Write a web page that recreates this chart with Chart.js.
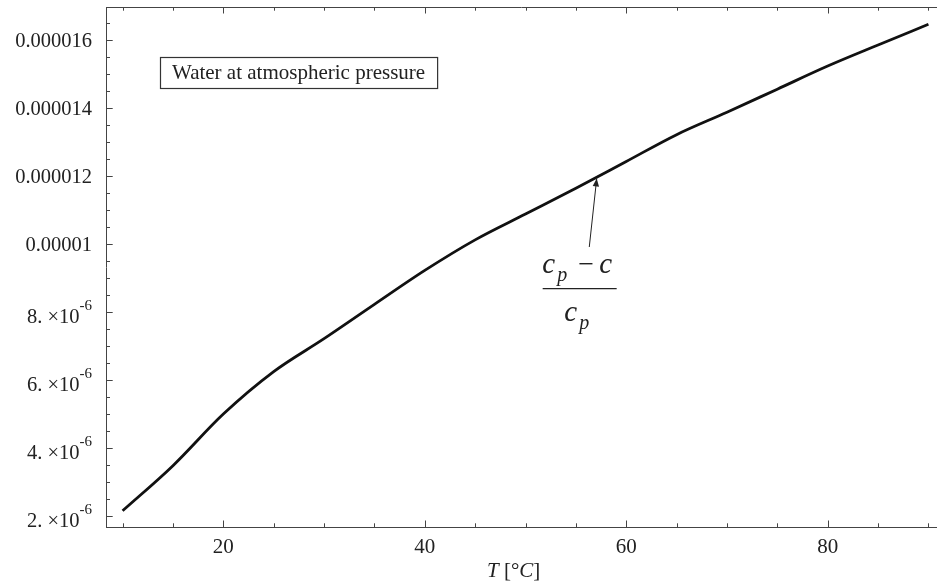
<!DOCTYPE html>
<html>
<head>
<meta charset="utf-8">
<script src="https://cdn.jsdelivr.net/npm/chart.js@4.4.1/dist/chart.umd.min.js"></script>
<style>
  html, body { margin: 0; padding: 0; background: #ffffff; overflow: hidden; }
  canvas { display: block; }
</style>
</head>
<body>
<canvas id="chart" width="937" height="585"></canvas>
<script>
// ---- data ----
const temperatures = [10, 15, 20, 25, 30, 35, 40, 45, 50, 55, 60, 65, 70, 75, 80, 85, 90];
const ratioValues = [2.14e-6, 3.47e-6, 4.99e-6, 6.24e-6, 7.21e-6, 8.22e-6, 9.22e-6, 10.12e-6, 10.88e-6,
                     11.64e-6, 12.43e-6, 13.22e-6, 13.88e-6, 14.56e-6, 15.24e-6, 15.86e-6, 16.47e-6];

// ---- ticks ----
const xTickValues = [20, 40, 60, 80];
const xTickLabels = ['20', '40', '60', '80'];
const xMinorTickValues = [10, 15, 25, 30, 35, 45, 50, 55, 65, 70, 75, 85, 90];
const yTickValues = [2e-6, 4e-6, 6e-6, 8e-6, 10e-6, 12e-6, 14e-6, 16e-6];
const yTickLabels = ['2. \u00d710^-6', '4. \u00d710^-6', '6. \u00d710^-6', '8. \u00d710^-6',
                     '0.00001', '0.000012', '0.000014', '0.000016'];
const yMinorTickValues = [2.5e-6, 3e-6, 3.5e-6, 4.5e-6, 5e-6, 5.5e-6, 6.5e-6, 7e-6, 7.5e-6,
                          8.5e-6, 9e-6, 9.5e-6, 10.5e-6, 11e-6, 11.5e-6, 12.5e-6, 13e-6, 13.5e-6,
                          14.5e-6, 15e-6, 15.5e-6, 16.5e-6];

// ---- texts ----
const boxText = 'Water at atmospheric pressure';
const arrowTail = { x: 56.33, y: 9.91e-6 };
const arrowTip = { x: 57.07, y: 11.93e-6 };

const SERIF = '"Liberation Serif", "Times New Roman", serif';
const AXIS_COLOR = '#444444';
const TEXT_COLOR = '#222222';

const decorations = {
  id: 'decorations',
  afterDraw(chart) {
    const { ctx, chartArea: a, scales: { x, y } } = chart;
    ctx.save();

    // top frame line
    ctx.strokeStyle = AXIS_COLOR;
    ctx.lineWidth = 1;
    ctx.beginPath();
    ctx.moveTo(a.left, a.top + 0.5);
    ctx.lineTo(a.right, a.top + 0.5);
    ctx.stroke();

    // x ticks (inward, bottom and top)
    const drawXTick = (v, len) => {
      const px = Math.round(x.getPixelForValue(v)) + 0.5;
      ctx.beginPath();
      ctx.moveTo(px, a.bottom);
      ctx.lineTo(px, a.bottom - len);
      ctx.moveTo(px, a.top);
      ctx.lineTo(px, a.top + len);
      ctx.stroke();
    };
    xTickValues.forEach(v => drawXTick(v, 6.5));
    xMinorTickValues.forEach(v => drawXTick(v, 3.7));

    // y ticks (inward, left)
    const drawYTick = (v, len) => {
      const py = Math.round(y.getPixelForValue(v)) + 0.5;
      ctx.beginPath();
      ctx.moveTo(a.left, py);
      ctx.lineTo(a.left + len, py);
      ctx.stroke();
    };
    yTickValues.forEach(v => drawYTick(v, 6.7));
    yMinorTickValues.forEach(v => drawYTick(v, 4));

    // y tick labels
    ctx.fillStyle = TEXT_COLOR;
    ctx.textAlign = 'right';
    ctx.textBaseline = 'alphabetic';
    const labelRight = a.left - 14;
    yTickValues.forEach((v, i) => {
      const py = y.getPixelForValue(v);
      const label = yTickLabels[i];
      if (label.includes('^')) {
        const [main, sup] = label.split('^');
        ctx.font = '15px ' + SERIF;
        const supW = ctx.measureText(sup).width;
        ctx.fillText(sup, labelRight, py - 1.5);
        ctx.font = '20.5px ' + SERIF;
        ctx.fillText(main, labelRight - supW, py + 11);
      } else {
        ctx.font = '20.5px ' + SERIF;
        ctx.fillText(label, labelRight, py + 6.7);
      }
    });

    // x axis title: T [°C]
    ctx.textAlign = 'left';
    let tx = 487;
    const tyBase = 577;
    const parts = [['T', true], [' [\u00b0', false], ['C', true], [']', false]];
    parts.forEach(([s, it]) => {
      ctx.font = (it ? 'italic ' : '') + '21px ' + SERIF;
      ctx.fillText(s, tx, tyBase);
      tx += ctx.measureText(s).width;
    });

    // boxed label
    ctx.font = '21px ' + SERIF;
    const bw = ctx.measureText(boxText).width;
    const bx = a.left + 54, by = a.top + 50;
    ctx.strokeStyle = '#333333';
    ctx.lineWidth = 1.2;
    ctx.strokeRect(bx + 0.5, by + 0.5, bw + 24, 31);
    ctx.fillText(boxText, bx + 12, by + 21.5);

    // arrow
    const tailX = x.getPixelForValue(arrowTail.x), tailY = y.getPixelForValue(arrowTail.y);
    const tipX = x.getPixelForValue(arrowTip.x), tipY = y.getPixelForValue(arrowTip.y);
    ctx.strokeStyle = '#222222';
    ctx.lineWidth = 1;
    ctx.beginPath();
    ctx.moveTo(tailX, tailY);
    ctx.lineTo(tipX, tipY);
    ctx.stroke();
    const ang = Math.atan2(tipY - tailY, tipX - tailX);
    const hl = 8, hw = 3.2;
    ctx.beginPath();
    ctx.moveTo(tipX, tipY);
    ctx.lineTo(tipX - hl * Math.cos(ang) + hw * Math.sin(ang), tipY - hl * Math.sin(ang) - hw * Math.cos(ang));
    ctx.lineTo(tipX - hl * Math.cos(ang) - hw * Math.sin(ang), tipY - hl * Math.sin(ang) + hw * Math.cos(ang));
    ctx.closePath();
    ctx.fillStyle = '#222222';
    ctx.fill();

    // fraction (c_p - c) / c_p
    const fx = tailX, fy = tailY;
    ctx.fillStyle = TEXT_COLOR;
    ctx.font = 'italic 29px ' + SERIF;
    ctx.fillText('c', fx - 47, fy + 25.5);
    ctx.font = 'italic 20px ' + SERIF;
    ctx.fillText('p', fx - 32, fy + 34);
    ctx.font = '28px ' + SERIF;
    ctx.fillText('\u2212', fx - 11, fy + 25.5);
    ctx.font = 'italic 29px ' + SERIF;
    ctx.fillText('c', fx + 10, fy + 25.5);
    ctx.beginPath();
    ctx.lineWidth = 1.2;
    ctx.moveTo(fx - 46.6, fy + 41.6);
    ctx.lineTo(fx + 27.4, fy + 41.6);
    ctx.stroke();
    ctx.font = 'italic 29px ' + SERIF;
    ctx.fillText('c', fx - 25, fy + 74);
    ctx.font = 'italic 20px ' + SERIF;
    ctx.fillText('p', fx - 10, fy + 82);

    ctx.restore();
  }
};

new Chart(document.getElementById('chart'), {
  type: 'line',
  data: {
    labels: temperatures,
    datasets: [{
      data: temperatures.map((t, i) => ({ x: t, y: ratioValues[i] })),
      borderColor: '#111111',
      borderWidth: 2.8,
      pointRadius: 0,
      cubicInterpolationMode: 'monotone',
      fill: false
    }]
  },
  options: {
    responsive: false,
    animation: false,
    devicePixelRatio: 1,
    layout: { padding: { top: 7, left: 0, right: 0, bottom: 0 } },
    plugins: { legend: { display: false }, tooltip: { enabled: false } },
    scales: {
      x: {
        type: 'linear',
        min: 8.354,
        max: 90.85,
        grid: { display: false, drawTicks: false },
        border: { display: true, color: AXIS_COLOR, width: 1 },
        afterBuildTicks: (s) => { s.ticks = xTickValues.map(v => ({ value: v })); },
        afterFit: (s) => { s.height = 58; },
        ticks: {
          autoSkip: false,
          maxRotation: 0,
          padding: 8,
          color: TEXT_COLOR,
          font: { family: SERIF, size: 21 },
          callback: (v) => xTickLabels[xTickValues.indexOf(v)]
        }
      },
      y: {
        type: 'linear',
        min: 1.663e-6,
        max: 16.98e-6,
        grid: { display: false, drawTicks: false },
        border: { display: true, color: AXIS_COLOR, width: 1 },
        afterBuildTicks: (s) => { s.ticks = yTickValues.map(v => ({ value: v })); },
        afterFit: (s) => { s.width = 106; },
        ticks: { display: false }
      }
    }
  },
  plugins: [decorations]
});
</script>
</body>
</html>
